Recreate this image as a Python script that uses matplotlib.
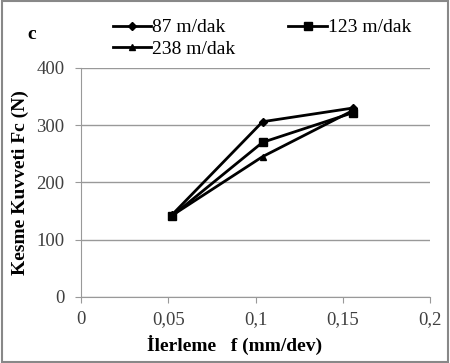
import numpy as np
import matplotlib
matplotlib.use("Agg")
import matplotlib.pyplot as plt
from matplotlib.patches import Rectangle

plt.rcParams['font.family'] = ['Liberation Serif', 'DejaVu Serif']

feed = [0.052, 0.104, 0.156]
fc_87 = [143, 306, 330]
fc_123 = [141, 270, 322]
fc_238 = [142, 245, 326]
labels = ['87 m/dak', '123 m/dak', '238 m/dak']
xticks = [0, 0.05, 0.1, 0.15, 0.2]
xtick_labels = ['0', '0,05', '0,1', '0,15', '0,2']
yticks = [0, 100, 200, 300, 400]

fig = plt.figure(figsize=(4.5, 3.63), dpi=100)
ax = fig.add_axes([0.18, 0.182, 0.776, 0.631])

l87, = ax.plot(feed, fc_87, color='black', lw=2, marker='D', ms=4, label=labels[0])
l123, = ax.plot(feed, fc_123, color='black', lw=2, marker='s', ms=6, label=labels[1])
l238, = ax.plot(feed, fc_238, color='black', lw=2, marker='^', ms=5, label=labels[2])

ax.set_xlim(0, 0.2)
ax.set_ylim(0, 400)
ax.set_xticks(xticks)
ax.set_xticklabels(xtick_labels)
ax.set_yticks(yticks)
ax.yaxis.grid(True, color='#999999', lw=1)
ax.set_axisbelow(True)
for s in ['top', 'right']:
    ax.spines[s].set_visible(False)
for s in ['left', 'bottom']:
    ax.spines[s].set_color('#999999')
ax.tick_params(colors='#999999', labelcolor='#404040', labelsize=13.5, length=4)
ax.tick_params(axis='y', pad=8)
ax.tick_params(axis='x', pad=6)

ax.set_xlabel('İlerleme   f (mm/dev)', fontsize=14, fontweight='bold', ha='left')
ax.xaxis.set_label_coords(0.189, -0.165)
ax.set_ylabel('Kesme Kuvveti Fc (N)', fontsize=14, fontweight='bold', labelpad=5)

# column-wise fill: 87 / 238 in first column, 123 in second
fig.legend([l87, l238, l123], [labels[0], labels[2], labels[1]],
           loc='upper left', bbox_to_anchor=(0.25, 0.948), ncol=2, frameon=False,
           fontsize=14, handlelength=2.0, handletextpad=0.05, columnspacing=2.7,
           labelspacing=0.2, borderaxespad=0, borderpad=0)

fig.text(0.06, 0.905, 'c', fontsize=14, fontweight='bold', va='center')
fig.patches.append(Rectangle((0.004, 0.004), 0.992, 0.992, transform=fig.transFigure,
                             fill=False, edgecolor='#888888', lw=1.5))

fig.savefig('out.png', dpi=100)
